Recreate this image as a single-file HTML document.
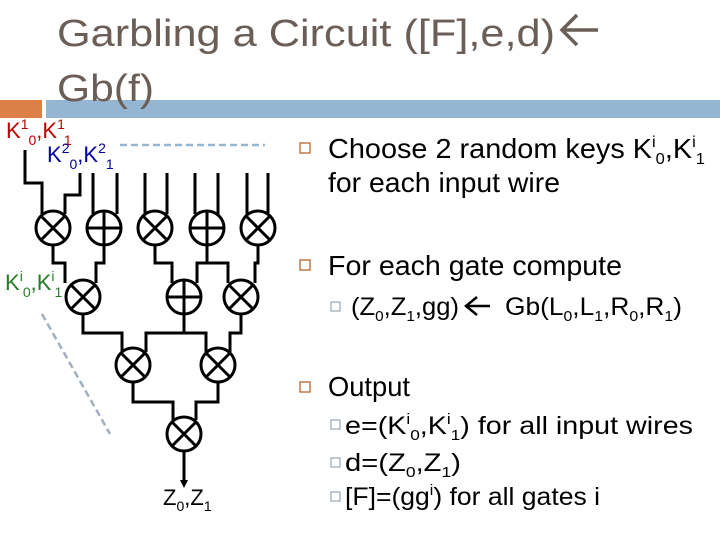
<!DOCTYPE html>
<html><head><meta charset="utf-8"><style>
html,body{margin:0;padding:0;background:#fff;width:720px;height:540px;overflow:hidden}
svg{display:block;font-family:"Liberation Sans",sans-serif}
</style></head><body>
<svg width="720" height="540" viewBox="0 0 720 540" xmlns="http://www.w3.org/2000/svg">
<defs><marker id="ah" markerWidth="8" markerHeight="8" refX="4" refY="4" orient="auto" markerUnits="userSpaceOnUse"><path d="M0,0 L8,4 L0,8 z" fill="#000"/></marker></defs>
<rect x="0" y="100" width="42" height="18" fill="#dd8047"/>
<rect x="46" y="100" width="674" height="18" fill="#94b6d2"/>
<text x="57" y="46" font-size="38" fill="#6b5e57" textLength="498" lengthAdjust="spacingAndGlyphs">Garbling a Circuit ([F],e,d)</text>
<path d="M562,30 L598,30 M577,15 L562,30 L577,45" stroke="#6b5e57" stroke-width="3.5" fill="none"/>
<text x="57" y="101" font-size="38" fill="#6b5e57" textLength="97" lengthAdjust="spacingAndGlyphs">Gb(f)</text>
<text x="6" y="138" font-size="22" fill="#c00000">K<tspan dy="-9" font-size="14">1</tspan><tspan dy="16" font-size="14">0</tspan><tspan dy="-7">,K</tspan><tspan dy="-9" font-size="14">1</tspan><tspan dy="16" font-size="14">1</tspan></text>
<text x="47" y="162" font-size="22" fill="#0000a0">K<tspan dy="-9" font-size="14">2</tspan><tspan dy="16" font-size="14">0</tspan><tspan dy="-7">,K</tspan><tspan dy="-9" font-size="14">2</tspan><tspan dy="16" font-size="14">1</tspan></text>
<text x="5" y="290" font-size="22" fill="#2a7a2a">K<tspan dy="-9" font-size="14">i</tspan><tspan dy="16" font-size="14">0</tspan><tspan dy="-7">,K</tspan><tspan dy="-9" font-size="14">i</tspan><tspan dy="16" font-size="14">1</tspan></text>
<line x1="120" y1="145" x2="265" y2="145" stroke="#94b6d2" stroke-width="2.5" stroke-dasharray="7,4"/>
<line x1="42" y1="314" x2="110" y2="434" stroke="#a0b0c0" stroke-width="2.5" stroke-dasharray="7,4"/>
<g stroke="#000" stroke-width="3" fill="none">
<path d="M25,150 V183 H42 V214"/>
<path d="M80,173 V195 H65 V214"/>
<path d="M93,173 V214 M117,173 V214 M145,173 V214 M167,173 V214 M195,173 V214 M218,173 V214 M247,173 V214 M268,173 V214"/>
<path d="M53,245 V263 H65 V283"/>
<path d="M104,245 V263 H96 V283"/>
<path d="M155,245 V263 H172 V283"/>
<path d="M207,245 V263 M197,283 V263 H228 V283"/>
<path d="M258,245 V263 H255 V283"/>
<path d="M83,314 V333 H122 V352"/>
<path d="M184,314 V333 M146,352 V333 H206 V352"/>
<path d="M241,314 V333 H230 V352"/>
<path d="M133,382 V402 H173 V420"/>
<path d="M218,382 V402 H196 V420"/>
<path d="M184,451 V484" marker-end="url(#ah)"/>
<circle cx="53" cy="228" r="17"/><path d="M41,216 L65,240 M65,216 L41,240"/>
<circle cx="155" cy="228" r="17"/><path d="M143,216 L167,240 M167,216 L143,240"/>
<circle cx="258" cy="228" r="17"/><path d="M246,216 L270,240 M270,216 L246,240"/>
<circle cx="83" cy="297" r="17"/><path d="M71,285 L95,309 M95,285 L71,309"/>
<circle cx="241" cy="297" r="17"/><path d="M229,285 L253,309 M253,285 L229,309"/>
<circle cx="133" cy="365" r="17"/><path d="M121,353 L145,377 M145,353 L121,377"/>
<circle cx="218" cy="365" r="17"/><path d="M206,353 L230,377 M230,353 L206,377"/>
<circle cx="184" cy="434" r="17"/><path d="M172,422 L196,446 M196,422 L172,446"/>
<circle cx="104" cy="228" r="17"/><path d="M87,228 H121 M104,211 V245"/>
<circle cx="207" cy="228" r="17"/><path d="M190,228 H224 M207,211 V245"/>
<circle cx="184" cy="297" r="17"/><path d="M167,297 H201 M184,280 V314"/>
</g>
<text x="163" y="505" font-size="22" fill="#000">Z<tspan dy="6" font-size="14">0</tspan><tspan dy="-6">,Z</tspan><tspan dy="6" font-size="14">1</tspan></text>
<g font-size="28" fill="#000">
<rect x="300" y="143" width="10" height="10" fill="none" stroke="#c0784a" stroke-width="1.5"/>
<text x="328" y="158" textLength="377" lengthAdjust="spacingAndGlyphs">Choose 2 random keys K<tspan dy="-11" font-size="16">i</tspan><tspan dy="17" font-size="16">0</tspan><tspan dy="-6">,K</tspan><tspan dy="-11" font-size="16">i</tspan><tspan dy="17" font-size="16">1</tspan></text>
<text x="328" y="192" textLength="232" lengthAdjust="spacingAndGlyphs">for each input wire</text>
<rect x="300" y="260" width="10" height="10" fill="none" stroke="#c0784a" stroke-width="1.5"/>
<text x="328" y="275" textLength="294" lengthAdjust="spacingAndGlyphs">For each gate compute</text>
<rect x="300" y="382" width="10" height="10" fill="none" stroke="#c0784a" stroke-width="1.5"/>
<text x="328" y="396" textLength="82" lengthAdjust="spacingAndGlyphs">Output</text>
</g>
<g font-size="25" fill="#000">
<rect x="331" y="302" width="9" height="9" fill="none" stroke="#98a8b8" stroke-width="1.2"/>
<text x="351" y="315" textLength="108" lengthAdjust="spacingAndGlyphs">(Z<tspan dy="6" font-size="15">0</tspan><tspan dy="-6">,Z</tspan><tspan dy="6" font-size="15">1</tspan><tspan dy="-6">,gg)</tspan></text>
<path d="M466,306 H490 M477,297 L466,306 L477,315" stroke="#000" stroke-width="2.5" fill="none"/>
<text x="505" y="315" textLength="177" lengthAdjust="spacingAndGlyphs">Gb(L<tspan dy="6" font-size="15">0</tspan><tspan dy="-6">,L</tspan><tspan dy="6" font-size="15">1</tspan><tspan dy="-6">,R</tspan><tspan dy="6" font-size="15">0</tspan><tspan dy="-6">,R</tspan><tspan dy="6" font-size="15">1</tspan><tspan dy="-6">)</tspan></text>
<rect x="331" y="420" width="9" height="9" fill="none" stroke="#98a8b8" stroke-width="1.2"/>
<text x="345" y="434" textLength="348" lengthAdjust="spacingAndGlyphs">e=(K<tspan dy="-10" font-size="15">i</tspan><tspan dy="16" font-size="15">0</tspan><tspan dy="-6">,K</tspan><tspan dy="-10" font-size="15">i</tspan><tspan dy="16" font-size="15">1</tspan><tspan dy="-6">) for all input wires</tspan></text>
<rect x="331" y="458" width="9" height="9" fill="none" stroke="#98a8b8" stroke-width="1.2"/>
<text x="345" y="471" textLength="116" lengthAdjust="spacingAndGlyphs">d=(Z<tspan dy="6" font-size="15">0</tspan><tspan dy="-6">,Z</tspan><tspan dy="6" font-size="15">1</tspan><tspan dy="-6">)</tspan></text>
<rect x="331" y="492" width="9" height="9" fill="none" stroke="#98a8b8" stroke-width="1.2"/>
<text x="345" y="505" textLength="255" lengthAdjust="spacingAndGlyphs">[F]=(gg<tspan dy="-10" font-size="15">i</tspan><tspan dy="10">) for all gates i</tspan></text>
</g>
</svg>
</body></html>
